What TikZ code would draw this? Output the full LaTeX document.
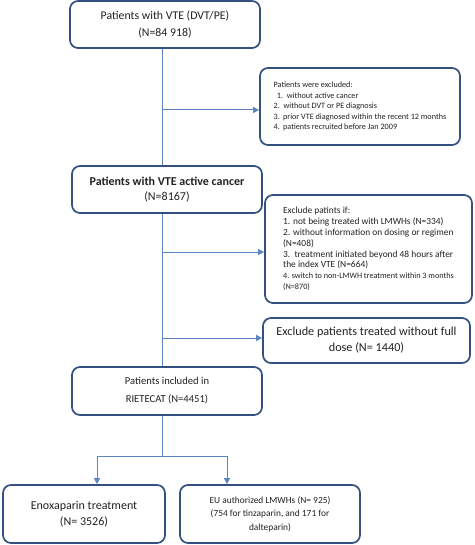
\documentclass[tikz,border=0pt]{standalone}
\usepackage{fontspec}
\setmainfont{Carlito}
\usetikzlibrary{arrows.meta}
\definecolor{boxc}{HTML}{34507F}
\definecolor{linec}{HTML}{5B86C2}
\definecolor{txt}{HTML}{222222}
\tikzset{
  flowbox/.style={draw=boxc, line width=1.7pt, rounded corners=8pt, inner sep=0pt,
    align=center, text=txt, fill=white},
  conn/.style={draw=linec, line width=1pt},
  connarrow/.style={conn, -{Triangle[length=6pt,width=6pt]}}
}
\begin{document}
\begin{tikzpicture}[x=1pt,y=-1pt]
\useasboundingbox (0,0) rectangle (474,545);
% main column
\node[flowbox, minimum width=190pt, minimum height=47pt, font=\fontsize{11.8}{16.5}\selectfont] (b1) at (165,24.5)
  {Patients with VTE (DVT/PE)\\(N=84 918)};
\node[flowbox, minimum width=190pt, minimum height=47pt, font=\fontsize{12}{15}\selectfont] (b3) at (167,189.5)
  {\textbf{Patients with VTE active cancer}\\(N=8167)};
\node[flowbox, minimum width=190pt, minimum height=48pt, font=\fontsize{10.6}{18}\selectfont] (b6) at (167,391)
  {Patients included in\\RIETECAT (N=4451)};
% exclusion boxes
\node[flowbox, align=left, minimum width=200pt, minimum height=77pt, font=\fontsize{8.2}{10.6}\selectfont] (b2) at (360,106.5)
  {Patients were excluded:\\
  \ \,1.\ \ without active cancer\\
  2.\ \ without DVT or PE diagnosis\\
  3.\ \,prior VTE diagnosed within the recent 12 months\\
  4.\ \,patients recruited before Jan 2009};
\node[flowbox, align=left, minimum width=207pt, minimum height=108pt, font=\fontsize{9.4}{10.8}\selectfont] (b4) at (368.5,249)
  {Exclude patints if:\\
  1. not being treated with LMWHs (N=334)\\
  2. without information on dosing or regimen\\
  (N=408)\\
  3.\ \ treatment initiated beyond 48 hours after\\
  the index VTE (N=664)\\
  {\fontsize{8.2}{10.4}\selectfont 4. switch to non-LMWH treatment within 3 months}\\
  {\fontsize{8.2}{10.4}\selectfont (N=870)}};
\node[flowbox, minimum width=207pt, minimum height=45pt, font=\fontsize{12.2}{16}\selectfont] (b5) at (366.5,340.5)
  {Exclude patients treated without full\\dose (N= 1440)};
% bottom boxes
\node[flowbox, minimum width=162pt, minimum height=58pt, font=\fontsize{12}{16.5}\selectfont] (b7) at (84,514)
  {Enoxaparin treatment\\(N= 3526)};
\node[flowbox, minimum width=180pt, minimum height=58pt, font=\fontsize{9.4}{13.5}\selectfont] (b8) at (270,514)
  {EU authorized LMWHs (N= 925)\\(754 for tinzaparin, and 171 for\\dalteparin)};
% connectors
\coordinate (t1) at (162,110);
\coordinate (t2) at (162,252);
\coordinate (t3) at (162,338);
\coordinate (sp) at (162,456);
\coordinate (spl) at (97,456);
\coordinate (spr) at (227,456);
\draw[conn] (b1.south -| sp) -- (b3.north -| sp);
\draw[conn] (b3.south -| sp) -- (b6.north -| sp);
\draw[conn] (b6.south -| sp) -- (sp);
\draw[connarrow] (t1) -- (b2.west |- t1);
\draw[connarrow] (t2) -- (b4.west |- t2);
\draw[connarrow] (t3) -- (b5.west |- t3);
\draw[conn] (spl) -- (spr);
\draw[connarrow] (spl) -- (spl |- b7.north);
\draw[connarrow] (spr) -- (spr |- b8.north);
\end{tikzpicture}
\end{document}
